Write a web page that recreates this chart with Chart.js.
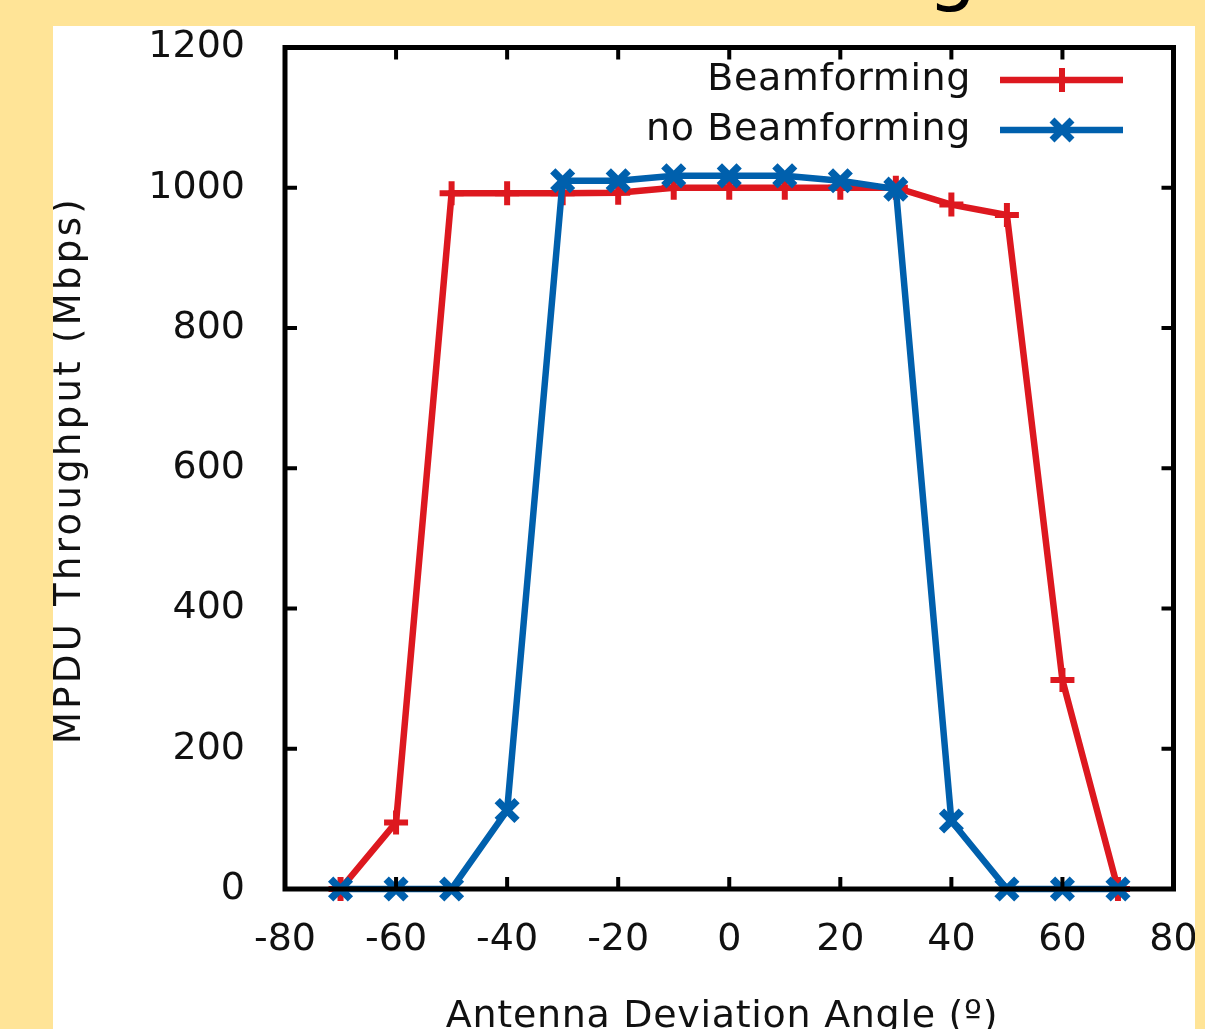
<!DOCTYPE html>
<html>
<head>
<meta charset="utf-8">
<script src="https://cdn.jsdelivr.net/npm/chart.js@4/dist/chart.umd.min.js"></script>
<style>
  html, body { margin: 0; padding: 0; }
  body { width: 1205px; height: 1029px; background: #FFE497; position: relative; overflow: hidden; font-family: "DejaVu Sans", sans-serif; }
  #title { position: absolute; right: 228px; top: -70px; font-size: 78px; line-height: 78px; color: #000; white-space: nowrap; }
  #panel { position: absolute; left: 53px; top: 26px; width: 1142px; height: 1010px; background: #fff; }
  #wrap { position: absolute; left: 0; top: 0; width: 1142px; height: 1010px; }
</style>
</head>
<body>
<div id="title">Beamforming</div>
<div id="panel"><div id="wrap"><canvas id="c"></canvas></div></div>
<script>
const angles = [-70, -60, -50, -40, -30, -20, -10, 0, 10, 20, 30, 40, 50, 60, 70];
const beamforming = [0, 95, 992, 992, 992, 993, 1000, 1000, 1000, 1000, 1000, 976, 961, 298, 0];
const noBeamforming = [0, 0, 0, 112, 1010, 1010, 1017, 1017, 1017, 1010, 998, 97, 0, 0, 0];
const xTicks = [-80, -60, -40, -20, 0, 20, 40, 60, 80];
const yTicks = [0, 200, 400, 600, 800, 1000, 1200];
const seriesNames = ['Beamforming', 'no Beamforming'];
const xTitle = 'Antenna Deviation Angle (º)';
const yTitle = 'MPDU Throughput (Mbps)';

const RED = '#DD181F';
const BLUE = '#0060AD';
const FONT = '"DejaVu Sans", sans-serif';

const toPoints = (vals) => angles.map((a, i) => ({ x: a, y: vals[i] }));

const framePlugin = {
  id: 'frame',
  afterDatasetsDraw(chart) {
    const { ctx, chartArea: { left, right, top, bottom }, scales: { x, y } } = chart;
    ctx.save();
    ctx.strokeStyle = '#000';
    ctx.lineWidth = 4;
    const tl = 12;
    xTicks.forEach(v => {
      const px = x.getPixelForValue(v);
      if (Math.abs(px - left) < 2 || Math.abs(px - right) < 2) return;
      ctx.beginPath();
      ctx.moveTo(px, bottom); ctx.lineTo(px, bottom - tl);
      ctx.moveTo(px, top); ctx.lineTo(px, top + tl);
      ctx.stroke();
    });
    yTicks.forEach(v => {
      const py = y.getPixelForValue(v);
      if (Math.abs(py - top) < 2 || Math.abs(py - bottom) < 2) return;
      ctx.beginPath();
      ctx.moveTo(left, py); ctx.lineTo(left + tl, py);
      ctx.moveTo(right, py); ctx.lineTo(right - tl, py);
      ctx.stroke();
    });
    ctx.lineWidth = 5;
    ctx.strokeRect(left, top, right - left, bottom - top);

    // legend (gnuplot style: text, then sample)
    const items = [
      { label: seriesNames[0], color: RED, style: 'plus', y: 54 },
      { label: seriesNames[1], color: BLUE, style: 'x', y: 104 }
    ];
    ctx.font = '38px ' + FONT;
    ctx.textAlign = 'right';
    ctx.textBaseline = 'middle';
    ctx.letterSpacing = '0.6px';
    items.forEach(it => {
      ctx.fillStyle = '#111';
      ctx.fillText(it.label, 918, it.y);
      ctx.strokeStyle = it.color;
      ctx.lineWidth = 6.5;
      ctx.beginPath();
      ctx.moveTo(947, it.y); ctx.lineTo(1070, it.y);
      ctx.stroke();
      const mx = 1009, my = it.y;
      ctx.beginPath();
      if (it.style === 'plus') {
        ctx.lineWidth = 6;
        ctx.moveTo(mx - 12, my); ctx.lineTo(mx + 12, my);
        ctx.moveTo(mx, my - 12); ctx.lineTo(mx, my + 12);
      } else {
        ctx.lineWidth = 7;
        const d = 10;
        ctx.moveTo(mx - d, my - d); ctx.lineTo(mx + d, my + d);
        ctx.moveTo(mx + d, my - d); ctx.lineTo(mx - d, my + d);
      }
      ctx.stroke();
    });

    // axis titles
    ctx.fillStyle = '#111';
    ctx.textAlign = 'center';
    ctx.textBaseline = 'alphabetic';
    ctx.font = '38px ' + FONT;
    ctx.letterSpacing = '0.7px';
    ctx.fillText(xTitle, 669, 1001);
    ctx.save();
    ctx.translate(27, 444);
    ctx.rotate(-Math.PI / 2);
    ctx.font = '37px ' + FONT;
    ctx.letterSpacing = '3.3px';
    ctx.fillText(yTitle, 0, 0);
    ctx.restore();
    ctx.restore();
  }
};

new Chart(document.getElementById('c'), {
  type: 'line',
  data: {
    datasets: [
      {
        label: seriesNames[0],
        data: toPoints(beamforming),
        borderColor: RED,
        backgroundColor: RED,
        borderWidth: 6.5,
        pointStyle: 'cross',
        pointRadius: 12,
        pointBorderWidth: 6,
        pointBorderColor: RED,
        pointHoverRadius: 12,
        tension: 0,
        clip: false,
        order: 2
      },
      {
        label: seriesNames[1],
        data: toPoints(noBeamforming),
        borderColor: BLUE,
        backgroundColor: BLUE,
        borderWidth: 6.5,
        pointStyle: 'crossRot',
        pointRadius: 14,
        pointBorderWidth: 7.5,
        pointBorderColor: BLUE,
        pointHoverRadius: 14,
        tension: 0,
        clip: false,
        order: 1
      }
    ]
  },
  options: {
    responsive: true,
    maintainAspectRatio: false,
    animation: false,
    events: [],
    layout: { padding: { top: 19, right: 21, left: 0, bottom: 0 } },
    plugins: {
      legend: { display: false },
      tooltip: { enabled: false },
      title: { display: false }
    },
    scales: {
      x: {
        type: 'linear',
        min: -80, max: 80,
        afterBuildTicks: (s) => { s.ticks = xTicks.map(v => ({ value: v })); },
        afterFit: (s) => { s.height = 147; s.paddingLeft = 0; s.paddingRight = 0; s.paddingTop = 0; s.paddingBottom = 0; },
        grid: { display: false, drawTicks: false },
        border: { display: false },
        ticks: { color: '#111', font: { family: FONT, size: 38 }, padding: 28, maxRotation: 0, autoSkip: false, callback: (v) => String(v) },
        title: { display: false, text: xTitle }
      },
      y: {
        type: 'linear',
        min: 0, max: 1200,
        afterBuildTicks: (s) => { s.ticks = yTicks.map(v => ({ value: v })); },
        afterFit: (s) => { s.width = 232; s.paddingLeft = 0; s.paddingRight = 0; s.paddingTop = 0; s.paddingBottom = 0; },
        grid: { display: false, drawTicks: false },
        border: { display: false },
        ticks: { color: '#111', font: { family: FONT, size: 38 }, padding: 40, autoSkip: false, callback: (v) => String(v) },
        title: { display: false, text: yTitle }
      }
    }
  },
  plugins: [framePlugin]
});
</script>
</body>
</html>
